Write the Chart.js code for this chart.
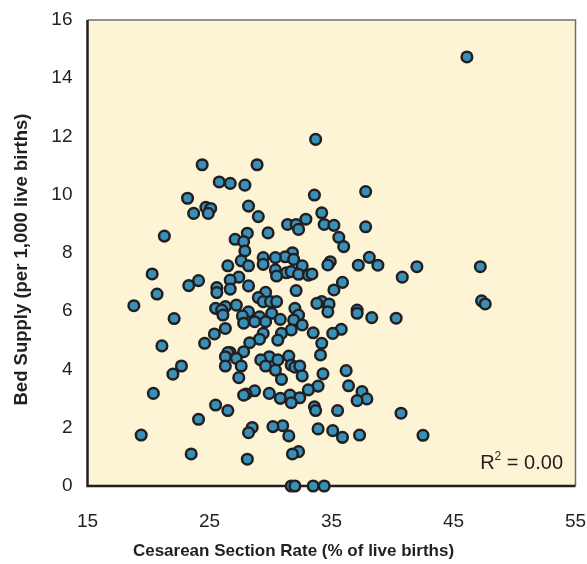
<!DOCTYPE html>
<html>
<head>
<meta charset="utf-8">
<script src="https://cdn.jsdelivr.net/npm/chart.js@4/dist/chart.umd.min.js"></script>
<style>
  html, body { margin: 0; padding: 0; background: #fff; }
  #wrap { width: 587px; height: 564px; position: relative; }
</style>
</head>
<body>
<div id="wrap"><canvas id="scatter"></canvas></div>
<script>
// data (x = cesarean rate, y = bed supply)
const cesareanRate = [46.1,33.7,24.4,28.9,25.8,26.7,27.9,37.8,33.6,23.2,28.2,24.7,25.1,24.9,23.7,29.0,34.2,32.9,31.4,32.1,
  32.3,34.4,35.2,37.8,28.1,29.8,21.3,27.1,27.8,35.6,36.0,27.9,31.8,31.2,30.4,29.4,31.9,38.1,27.6,34.9,
  34.7,37.2,38.8,42.0,47.2,28.2,26.5,29.4,32.6,30.4,31.3,31.7,32.3,33.1,33.4,30.5,20.3,27.4,26.7,40.8,
  24.1,35.9,23.3,28.2,25.6,25.6,26.7,32.1,35.2,29.6,20.7,29.0,29.4,30.0,30.5,34.2,47.3,47.6,34.8,33.8,
  27.2,26.3,25.5,18.8,32.0,26.0,37.1,28.2,34.7,30.1,37.1,26.1,32.3,27.7,29.1,38.3,40.3,22.1,30.8,31.9,
  28.7,29.6,27.8,32.6,26.3,35.8,31.7,33.5,29.4,30.9,35.1,25.4,29.1,30.6,28.3,34.2,24.6,21.1,27.8,26.7,
  26.5,34.1,31.5,29.9,26.3,27.2,29.2,30.6,31.7,32.0,32.4,29.6,27.6,26.3,22.7,30.4,36.2,34.3,22.0,32.6,
  27.4,30.9,36.4,33.9,33.1,28.7,37.5,29.9,20.4,28.0,27.8,31.6,32.4,30.8,37.9,37.1,31.7,25.5,33.6,33.7,
  26.5,35.5,40.7,24.1,31.0,30.2,28.5,33.9,35.1,28.2,19.4,37.3,42.5,31.5,35.9,32.3,31.8,23.5,28.1,31.7,
  32.0,33.5,34.4];
const bedSupply = [14.73,11.9,11.03,11.03,10.44,10.39,10.33,10.11,9.99,9.88,9.61,9.57,9.53,9.36,9.36,9.25,9.38,9.16,8.98,8.98,
  8.81,8.98,8.95,8.90,8.68,8.69,8.58,8.47,8.39,8.54,8.22,8.07,8.01,7.87,7.84,7.84,7.78,7.85,7.73,7.70,
  7.59,7.58,7.58,7.53,7.53,7.56,7.56,7.61,7.56,7.42,7.32,7.36,7.27,7.24,7.28,7.21,7.28,7.17,7.07,7.17,
  7.05,6.99,6.88,6.87,6.81,6.64,6.76,6.71,6.73,6.65,6.59,6.47,6.33,6.33,6.33,6.33,6.36,6.25,6.25,6.27,
  6.21,6.16,6.10,6.19,6.10,6.04,6.04,5.98,5.98,5.93,5.93,5.87,5.87,5.84,5.81,5.78,5.76,5.75,5.72,5.70,
  5.64,5.64,5.59,5.53,5.41,5.38,5.36,5.26,5.24,5.24,5.24,5.22,5.04,5.01,4.92,4.90,4.90,4.81,4.61,4.58,
  4.58,4.50,4.46,4.44,4.44,4.38,4.33,4.33,4.15,4.08,4.12,4.12,4.12,4.12,4.12,3.98,3.96,3.85,3.84,3.78,
  3.72,3.66,3.44,3.43,3.30,3.27,3.24,3.18,3.18,3.16,3.12,3.12,3.03,3.01,2.99,2.93,2.86,2.78,2.72,2.59,
  2.59,2.59,2.50,2.29,2.07,2.04,2.01,1.96,1.90,1.83,1.75,1.75,1.74,1.72,1.67,1.18,1.10,1.10,0.92,0,
  0,0,0];
const xTicks = [15, 25, 35, 45, 55];
const yTicks = [0, 2, 4, 6, 8, 10, 12, 14, 16];
const xTitle = 'Cesarean Section Rate (% of live births)';
const yTitle = 'Bed Supply (per 1,000 live births)';
const rSquared = '0.00';

const INK = '#231f20';
const FONT = '"Liberation Sans", Arial, Helvetica, sans-serif';

// yellow plot box with dark left/bottom edges
const plotBox = {
  id: 'plotBox',
  beforeDatasetsDraw(chart) {
    const {ctx, chartArea: a} = chart;
    ctx.save();
    ctx.fillStyle = '#fdf4d5';
    ctx.fillRect(a.left, a.top, a.right - a.left, a.bottom - a.top);
    ctx.strokeStyle = '#6d6e71';
    ctx.lineWidth = 1.5;
    ctx.beginPath();
    ctx.moveTo(a.left, a.top); ctx.lineTo(a.right, a.top); ctx.lineTo(a.right, a.bottom);
    ctx.stroke();
    ctx.strokeStyle = INK;
    ctx.lineWidth = 2.5;
    ctx.beginPath();
    ctx.moveTo(a.left, a.top); ctx.lineTo(a.left, a.bottom); ctx.lineTo(a.right, a.bottom);
    ctx.stroke();
    ctx.restore();
  }
};

// axis titles + R² note
const labels = {
  id: 'labels',
  afterDraw(chart) {
    const {ctx} = chart;
    ctx.save();
    ctx.fillStyle = INK;
    ctx.textAlign = 'center';
    ctx.textBaseline = 'middle';
    ctx.font = 'bold 17px ' + FONT;
    ctx.fillText(xTitle, chart.width / 2, 551);
    ctx.font = 'bold 18.5px ' + FONT;
    ctx.translate(22, 259.5);
    ctx.rotate(-Math.PI / 2);
    ctx.fillText(yTitle, 0, 0);
    ctx.restore();

    ctx.save();
    ctx.fillStyle = INK;
    ctx.textBaseline = 'alphabetic';
    ctx.textAlign = 'left';
    const big = '20px ' + FONT, small = '12px ' + FONT;
    const tail = ' = ' + rSquared;
    ctx.font = big;
    const wR = ctx.measureText('R').width, wTail = ctx.measureText(tail).width;
    ctx.font = small;
    const w2 = ctx.measureText('2').width;
    let x = 563 - (wR + w2 + wTail);
    const base = 469;
    ctx.font = big; ctx.fillText('R', x, base); x += wR;
    ctx.font = small; ctx.fillText('2', x, base - 9); x += w2;
    ctx.font = big; ctx.fillText(tail, x, base);
    ctx.restore();
  }
};

new Chart(document.getElementById('scatter'), {
  type: 'scatter',
  data: {
    datasets: [{
      data: cesareanRate.map((v, i) => ({x: v, y: bedSupply[i]})),
      backgroundColor: '#3890b8',
      borderColor: INK,
      borderWidth: 2.5,
      pointRadius: 5.3,
      pointHoverRadius: 5.3,
      clip: false
    }]
  },
  options: {
    responsive: true,
    maintainAspectRatio: false,
    animation: false,
    layout: { padding: { top: 20, right: 11.5, left: 0, bottom: 0 } },
    plugins: { legend: { display: false }, tooltip: { enabled: false } },
    scales: {
      x: {
        type: 'linear',
        min: xTicks[0], max: xTicks[xTicks.length - 1],
        afterBuildTicks: s => { s.ticks = xTicks.map(v => ({value: v})); },
        afterFit: s => { s.height = 78; s.paddingLeft = 0; s.paddingRight = 0; },
        grid: { display: false, drawTicks: false },
        border: { display: false },
        ticks: { padding: 24, color: INK, font: { family: FONT, size: 19 } }
      },
      y: {
        type: 'linear',
        min: yTicks[0], max: yTicks[yTicks.length - 1],
        afterBuildTicks: s => { s.ticks = yTicks.map(v => ({value: v})); },
        afterFit: s => { s.width = 87.5; s.paddingTop = 0; s.paddingBottom = 0; },
        grid: { display: false, drawTicks: false },
        border: { display: false },
        ticks: { padding: 15, color: INK, font: { family: FONT, size: 19 } }
      }
    }
  },
  plugins: [plotBox, labels]
});
</script>
</body>
</html>
